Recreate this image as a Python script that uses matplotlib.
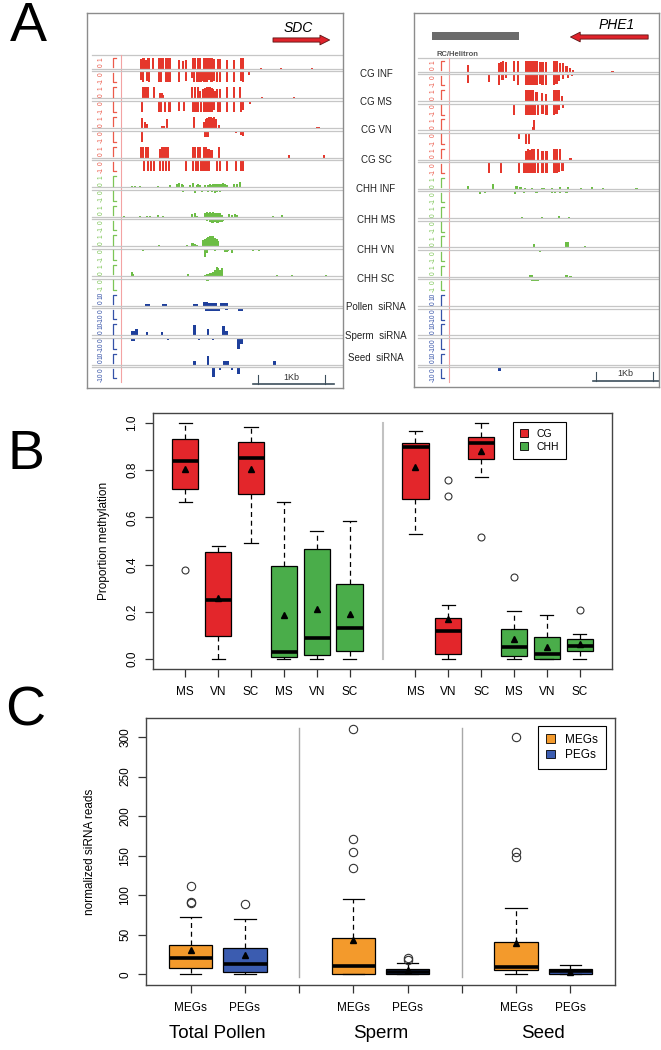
import numpy as np
import matplotlib
matplotlib.use('Agg')
import matplotlib.pyplot as plt
from matplotlib.patches import Patch
from matplotlib.transforms import blended_transform_factory

plt.rcParams['font.family'] = ['Liberation Sans', 'DejaVu Sans']

# ---------------------------------------------------------------- data: panel A
TRACK_NAMES = ['CG INF', 'CG MS', 'CG VN', 'CG SC', 'CHH INF', 'CHH MS', 'CHH VN', 'CHH SC',
               'Pollen  siRNA', 'Sperm  siRNA', 'Seed  siRNA']
TRACK_KIND = ['CG'] * 4 + ['CHH'] * 4 + ['siRNA'] * 3

# methylation tracks: (position bp, value) ; value>0 top strand, value<0 bottom strand
sdc_cg_inf = [(810, .9), (835, 1), (860, 1), (885, .8), (910, 1), (930, 1), (995, 1), (1085, 1), (1110, 1),
              (1140, 1), (1185, 1), (1210, 1), (1240, 1), (1380, .8), (1445, .7), (1480, .8), (1585, 1),
              (1615, 1), (1670, 1), (1700, 1), (1755, 1), (1780, 1), (1805, 1), (1830, 1), (1855, 1),
              (1880, 1), (1905, .9), (1960, .9), (1995, .9), (2095, .8), (2205, .8), (2310, 1), (2340, 1),
              (2610, .06), (2910, .06), (3380, .06),
              (810, -.8), (845, -1), (900, -.9), (925, -1), (1085, -1), (1110, -1), (1180, -1), (1210, -1),
              (1240, -1), (1380, -1), (1480, -.9), (1570, -.6), (1605, -1), (1645, -1), (1675, -1), (1705, -1),
              (1730, -.9), (1755, -1), (1780, -1), (1805, -1), (1830, -.8), (1855, -1), (1880, -1),
              (1905, -.9), (1955, -1), (1995, -1), (2095, -1), (2205, -1), (2310, -.9), (2340, -1), (2435, -.3)]
sdc_cg_ms = [(845, 1), (870, 1), (895, 1), (920, 1), (1005, 1), (1095, .5), (1120, .5), (1145, .3), (1580, 1),
             (1620, 1), (1670, 1), (1700, .7), (1745, .8), (1770, .9), (1795, 1), (1820, 1), (1845, 1),
             (1870, .9), (1895, .8), (1920, .7), (1955, .8), (1995, .8), (2095, 1), (2205, 1), (2295, 1),
             (2620, .1), (2760, .06), (2870, .06), (3110, .1),
             (820, -1), (1080, -1), (1105, -1), (1170, -1), (1225, -1), (1245, -1), (1380, -.9), (1455, -.9),
             (1585, -1), (1610, -1), (1635, -1), (1665, -1), (1705, -1), (1755, -1), (1780, -1), (1805, -1),
             (1830, -1), (1855, -1), (1880, -1), (1905, -.8), (1960, -1), (1995, -1), (2095, -1), (2210, -1),
             (2310, -1), (2345, -.8), (2445, -.3), (3585, -.1)]
sdc_cg_vn = [(830, .9), (870, .5), (895, .4), (1130, .2), (1160, .2), (1195, .8), (1610, 1), (1755, .5),
             (1780, .8), (1805, .9), (1830, 1), (1855, 1), (1880, .9), (1910, 1), (1940, .8), (1985, .3),
             (3455, .1), (3485, .1),
             (820, -1), (1145, -.1), (1185, -.1), (1235, -.1), (1770, -.6), (1795, -.6), (1820, -.6),
             (2110, -.06), (2235, -.2), (2310, -.4), (2345, -.5), (2995, -.06), (3495, -.06)]
sdc_cg_sc = [(810, 1), (840, 1), (885, 1), (915, 1), (1095, .8), (1120, 1), (1150, 1), (1185, 1), (1215, 1),
             (1595, 1), (1620, 1), (1670, 1), (1700, 1), (1755, 1), (1780, 1), (1805, .8), (1830, .8),
             (1855, .7), (1880, .7), (1985, 1), (3030, .2), (3560, .2),
             (860, -1), (910, -1), (960, -1), (1010, -1), (1095, -1), (1145, -1), (1185, -1), (1235, -1),
             (1485, -1), (1585, -1), (1635, -1), (1670, -1), (1705, -1), (1730, -1), (1755, -1), (1780, -1),
             (1805, -1), (1830, -1), (1955, -1), (1995, -1), (2105, -1), (2230, -1), (2310, -1), (2345, -1),
             (3295, -.08)]
sdc_chh_inf = [(670, .08), (720, .08), (795, .06), (1070, .06), (1245, .15), (1345, .3), (1385, .35),
               (1420, .3), (1445, .2), (1545, .15), (1595, .35), (1645, .2), (1670, .25), (1695, .2),
               (1770, .15), (1820, .2), (1845, .3), (1870, .2), (1895, .3), (1920, .25), (1945, .3),
               (1970, .25), (1995, .3), (2020, .25), (2045, .35), (2070, .3), (2095, .15), (2205, .3),
               (2245, .25), (2295, .45),
               (1235, -.15), (1345, -.1), (1445, -.2), (1495, -.15), (1545, -.1), (1620, -.3), (1645, -.15),
               (1720, -.2), (1770, -.15), (1820, -.2), (1870, -.25), (1920, -.3), (1945, -.2), (1995, -.25),
               (2045, -.15)]
sdc_chh_ms = [(560, .1), (795, .06), (895, .08), (945, .08), (1070, .15), (1145, .1), (1570, .25), (1620, .3),
              (1645, .1), (1770, .3), (1795, .45), (1820, .35), (1845, .4), (1870, .35), (1895, .4),
              (1920, .35), (1945, .3), (1970, .3), (1995, .3), (2020, .2), (2135, .25), (2170, .2),
              (2220, .25), (2245, .2), (2795, .06), (2920, .15),
              (1235, -.1), (1545, -.08), (1620, -.08), (1795, -.15), (1845, -.25), (1870, -.35), (1895, -.3),
              (1920, -.25), (1945, -.3), (1970, -.3), (1995, -.2), (2020, -.2), (2045, -.15), (3270, -.06)]
sdc_chh_vn = [(1085, .1), (1495, .12), (1570, .3), (1595, .3), (1620, .25), (1645, .15), (1745, .6), (1770, .7),
              (1795, .8), (1820, .85), (1845, .95), (1870, .9), (1895, .95), (1920, .8), (1945, .7),
              (1970, .5), (2945, .06),
              (835, -.15), (1095, -.1), (1235, -.1), (1270, -.1), (1345, -.1), (1495, -.08), (1610, -.1),
              (1770, -.7), (1795, -.35), (1920, -.15), (2070, -.3), (2095, -.3), (2120, -.2), (2170, -.35),
              (2495, -.15), (2580, -.15)]
sdc_chh_sc = [(670, .4), (695, .15), (1520, .15), (1770, .1), (1795, .15), (1820, .2), (1845, .25), (1870, .3),
              (1895, .4), (1920, .5), (1945, .8), (1970, .75), (1995, .5), (2020, .7), (2855, .06),
              (3080, .06), (3585, .06),
              (1235, -.08), (1545, -.08), (1605, -.08), (1795, -.25), (1820, -.25)]
# siRNA tracks: (start bp, end bp, reads)
sdc_pollen = [(870, 945, 1.5), (1130, 1200, 1.5), (1595, 1670, 1.5), (1745, 1820, 3), (1820, 1945, 2.5),
              (1995, 2120, 2), (1770, 1870, -3), (1870, 1995, -2.5), (2070, 2120, -2), (2270, 2345, -3)]
sdc_sperm = [(655, 720, 3.5), (720, 770, 6), (885, 920, 3), (1110, 1145, 3), (1595, 1630, 9), (1795, 1830, 6),
             (2020, 2070, 8), (2070, 2120, 4), (655, 720, -3), (1195, 1235, -2), (1670, 1695, -2),
             (1870, 1905, -2), (2245, 2300, -10), (2300, 2345, -6)]
sdc_seed = [(1595, 1630, 3), (1795, 1830, 8), (2045, 2135, 3), (2795, 2835, 3), (1870, 1920, -9),
            (1985, 2015, -2), (2155, 2185, -2), (2245, 2295, -6), (2685, 2710, -1), (3060, 3085, -1)]

phe_cg_inf = [(950, .6), (1485, .8), (1525, .9), (1560, 1), (1610, .9), (1755, 1), (1825, 1), (1960, 1),
              (2000, 1), (2040, 1), (2065, 1), (2090, 1), (2115, 1), (2145, 1), (2205, .9), (2250, .9),
              (2310, .9), (2450, 1), (2495, 1), (2555, .8), (2610, .8), (2670, .5), (2730, .3), (2785, .15),
              (3475, .1),
              (950, -.8), (1315, -.7), (1490, -1), (1550, -.5), (1610, -.3), (1755, -.6), (1825, -1),
              (1960, -1), (2000, -1), (2040, -1), (2065, -1), (2090, -1), (2115, -1), (2145, -1),
              (2205, -.9), (2250, -1), (2310, -1), (2450, -1), (2495, -.9), (2540, -.6), (2610, -.4),
              (2700, -.3), (2760, -.2)]
phe_cg_ms = [(1960, 1), (1990, 1), (2015, 1), (2040, 1), (2065, 1), (2090, 1), (2145, .8), (2235, .7),
             (2310, .6), (2450, 1), (2495, 1), (2540, 1), (2585, .5),
             (1755, -1), (1960, -1), (1990, -1), (2015, -1), (2040, -1), (2065, -1), (2090, -1), (2115, -1),
             (2175, -1), (2250, -.9), (2320, -1), (2450, -1), (2495, -.9), (2540, -.6), (2610, -.4)]
phe_cg_vn = [(2085, .3), (2105, .9), (1840, -.6), (1960, -1), (2015, -1), (2320, -.1)]
phe_cg_sc = [(1960, .8), (2000, 1), (2040, .9), (2075, 1), (2100, 1), (2175, 1), (2250, .8), (2320, .8),
             (2450, 1), (2495, 1), (2555, 1), (2740, .1),
             (1315, -1), (1520, -1), (1840, -1), (1925, -1), (1960, -1), (1990, -1), (2015, -1), (2040, -1),
             (2065, -1), (2090, -1), (2115, -1), (2175, -1), (2250, -1), (2320, -1), (2450, -1), (2495, -1),
             (2540, -.9), (2600, -.8)]
phe_chh_inf = [(950, .3), (1390, .45), (1795, .3), (1865, .2), (1940, .1), (2060, .1), (2235, .1), (2270, .1),
               (2410, .1), (2555, .15), (2700, .15), (2930, .1), (3110, .2), (3310, .1), (3895, .1),
               (1150, -.2), (1240, -.15), (1765, -.2), (1925, -.1), (2145, -.15), (2410, -.1), (2470, -.1),
               (2555, -.1), (2670, -.1), (3050, -.08), (3340, -.08)]
phe_chh_ms = [(1885, .15), (2235, .08), (2540, .2), (2715, .15)]
phe_chh_vn = [(2105, .3), (2670, .5), (2700, .5), (3000, .1), (1795, -.1), (2205, -.2), (3195, -.1), (3400, -.1)]
phe_chh_sc = [(2030, .15), (2060, .15), (2670, .15), (2740, .08), (2075, -.15), (2105, -.15), (2140, -.15),
              (2175, -.15)]
phe_pollen = []
phe_sperm = []
phe_seed = [(1475, 1515, -3)]

# ---------------------------------------------------------------- data: panel B
b_positions = [1, 2, 3, 4, 5, 6, 8, 9, 10, 11, 12, 13]
b_labels = ['MS', 'VN', 'SC', 'MS', 'VN', 'SC', 'MS', 'VN', 'SC', 'MS', 'VN', 'SC']
b_context = ['CG', 'CG', 'CG', 'CHH', 'CHH', 'CHH', 'CG', 'CG', 'CG', 'CHH', 'CHH', 'CHH']
b_whislo = [0.667, 0.0, 0.49, 0.0, 0.0, 0.0, 0.528, 0.0, 0.771, 0.0, 0.0, 0.0]
b_q1 = [0.722, 0.096, 0.70, 0.01, 0.016, 0.035, 0.677, 0.023, 0.849, 0.013, 0.0, 0.034]
b_med = [0.838, 0.25, 0.85, 0.03, 0.09, 0.131, 0.90, 0.119, 0.915, 0.051, 0.021, 0.054]
b_q3 = [0.934, 0.453, 0.919, 0.395, 0.465, 0.316, 0.917, 0.172, 0.941, 0.127, 0.095, 0.083]
b_whishi = [1.0, 0.48, 0.983, 0.665, 0.544, 0.583, 0.966, 0.227, 1.0, 0.203, 0.185, 0.107]
b_mean = [0.806, 0.26, 0.806, 0.186, 0.213, 0.19, 0.812, 0.17, 0.88, 0.086, 0.052, 0.064]
b_fliers = [[0.376], [], [], [], [], [], [], [0.758, 0.69], [0.516], [0.347], [], [0.206]]

# ---------------------------------------------------------------- data: panel C
c_positions = [1, 2, 4, 5, 7, 8]
c_class = ['MEGs', 'PEGs', 'MEGs', 'PEGs', 'MEGs', 'PEGs']
c_groups = ['Total Pollen', 'Sperm', 'Seed']
c_whislo = [1, 0, 0, 0, 0, 0]
c_q1 = [7.6, 3.4, 0, 0, 5, 0]
c_med = [21, 13, 10.5, 2.5, 9.2, 4.2]
c_q3 = [37, 32.8, 45.8, 6.3, 40.8, 7.1]
c_whishi = [72.7, 69.3, 95.8, 13.9, 84, 11.8]
c_mean = [30.7, 24.4, 44, 5.5, 40, 3.4]
c_fliers = [[112, 92, 90], [89.5], [310, 171, 155, 134], [21, 17.5], [300, 155, 148], []]

# ---------------------------------------------------------------- styling
W, H = 661, 1050
fig = plt.figure(figsize=(W / 100, H / 100), dpi=100)


def rect(x0, y0, x1, y1):
    return [x0 / W, 1 - y1 / H, (x1 - x0) / W, (y1 - y0) / H]


COL = {'CG': '#e5372c', 'CHH': '#6cbd45', 'siRNA': '#1e3f9b'}
LABCOL = {'CG': '#ec5a4a', 'CHH': '#7cc556', 'siRNA': '#3552a8'}
GRID = '#c6c6c6'


def draw_browser(px, span_bp, zero0, step, meth, sirna, label_x, bracket_x, pink_x, line_x0, bar_w):
    ax = fig.add_axes(rect(*px))
    hpx = px[3] - px[1]
    ax.set_xlim(0, span_bp)
    ax.set_ylim(hpx, 0)
    ax.set_xticks([])
    ax.set_yticks([])
    for s in ax.spines.values():
        s.set_color('#8c8c8c')
        s.set_linewidth(1.0)
    HB, gap = 11.0, 1.3
    bw = span_bp * 0.012
    zeros = [zero0 + step * i for i in range(len(TRACK_NAMES))]
    ax.plot([line_x0, span_bp], [zero0 - 15] * 2, color=GRID, lw=0.9)
    ax.plot([pink_x] * 2, [zero0 - 15, zeros[-1] + 16], color='#f3a3a3', lw=0.8)
    tracks = meth + sirna
    for i, z in enumerate(zeros):
        kind = TRACK_KIND[i]
        for dy in (-gap, gap):
            ax.plot([line_x0, span_bp], [z + dy] * 2, color=GRID, lw=0.9)
        labs = ('10', '0', '0', '-10') if kind == 'siRNA' else ('1', '0', '0', '-1')
        for t, dy in zip(labs, (-11, -4.5, 4.0, 11)):
            ax.text(label_x, z + dy, t, rotation=90, ha='center', va='center', fontsize=4.8,
                    color=LABCOL[kind])
        ax.plot([bracket_x + bw, bracket_x, bracket_x], [z - gap - HB, z - gap - HB, z - gap - 1.5],
                color=LABCOL[kind], lw=0.9)
        ax.plot([bracket_x, bracket_x, bracket_x + bw], [z + gap + 1.5, z + gap + HB, z + gap + HB],
                color=LABCOL[kind], lw=0.9)
        data = tracks[i]
        if not data:
            continue
        if kind == 'siRNA':
            arr = np.array(data, dtype=float)
            st, en, v = arr[:, 0], arr[:, 1], arr[:, 2]
            up = v > 0
            ax.bar(st[up], -v[up] / 10 * HB, bottom=z - gap, width=(en - st)[up], align='edge',
                   color=COL[kind], lw=0)
            ax.bar(st[~up], -v[~up] / 10 * HB, bottom=z + gap, width=(en - st)[~up], align='edge',
                   color=COL[kind], lw=0)
        else:
            arr = np.array(data, dtype=float)
            pos, v = arr[:, 0], arr[:, 1]
            up = v > 0
            ax.bar(pos[up], -v[up] * HB, bottom=z - gap, width=bar_w, color=COL[kind], lw=0)
            ax.bar(pos[~up], -v[~up] * HB, bottom=z + gap, width=bar_w, color=COL[kind], lw=0)
    return ax


sdc_meth = [sdc_cg_inf, sdc_cg_ms, sdc_cg_vn, sdc_cg_sc, sdc_chh_inf, sdc_chh_ms, sdc_chh_vn, sdc_chh_sc]
phe_meth = [phe_cg_inf, phe_cg_ms, phe_cg_vn, phe_cg_sc, phe_chh_inf, phe_chh_ms, phe_chh_vn, phe_chh_sc]

axL = draw_browser((87, 13, 343, 388), 3840, 57, 29.6, sdc_meth, [sdc_pollen, sdc_sperm, sdc_seed],
                   label_x=215, bracket_x=385, pink_x=505, line_x0=75, bar_w=33)
axR = draw_browser((414, 13, 659, 387), 4290, 60, 29.3, phe_meth, [phe_pollen, phe_sperm, phe_seed],
                   label_x=330, bracket_x=470, pink_x=612, line_x0=70, bar_w=38)

# gene arrows / labels
axL.text(3165, 15, 'SDC', style='italic', fontsize=10, ha='center', va='center')
axL.annotate('', xy=(3640, 27), xytext=(2790, 27),
             arrowprops=dict(arrowstyle='simple,head_length=0.7,head_width=0.7,tail_width=0.3',
                             fc='#e0232b', ec='#5b1515', lw=0.6, mutation_scale=10, shrinkA=0, shrinkB=0))
axR.text(3550, 12, 'PHE1', style='italic', fontsize=10, ha='center', va='center')
axR.annotate('', xy=(2740, 24), xytext=(4100, 24),
             arrowprops=dict(arrowstyle='simple,head_length=0.7,head_width=0.7,tail_width=0.3',
                             fc='#e0232b', ec='#5b1515', lw=0.6, mutation_scale=10, shrinkA=0, shrinkB=0))
axR.bar(315, 8, bottom=19, width=1525, align='edge', color='#6b6b6b', lw=0)
axR.text(400, 41, 'RC/Helitron', fontsize=5.5, fontweight='bold', color='#555555', ha='left', va='center')

# scale bars
for ax, x0, x1, t0, t1, yl, ytxt in ((axL, 2495, 3700, 2570, 3570, 371, 364),
                                      (axR, 3130, 4290, 3195, 4190, 368.5, 361)):
    ax.plot([x0, x1], [yl, yl], color='#3d4f5c', lw=1.2)
    for t in (t0, t1):
        ax.plot([t, t], [yl - 9, yl], color='#3d4f5c', lw=0.8)
    ax.text((t0 + t1) / 2, ytxt, '1Kb', fontsize=6.5, ha='center', va='center', color='#333333')

track_label_y = [74, 102, 130, 160, 189, 220, 250, 279, 307, 336, 358]
for name, y in zip(TRACK_NAMES, track_label_y):
    fig.text(376 / W, 1 - y / H, name, fontsize=7, ha='center', va='center', color='#222222')

# ---------------------------------------------------------------- panel B
RED, GREEN = '#e3262b', '#4aad4a'
axB = fig.add_axes(rect(153, 413, 612, 669))
statsB = [dict(med=m, q1=a, q3=b, whislo=lo, whishi=hi, fliers=np.array(f), mean=mu)
          for m, a, b, lo, hi, f, mu in zip(b_med, b_q1, b_q3, b_whislo, b_whishi, b_fliers, b_mean)]


def boxes(ax, stats, positions, colors, fsize):
    bp = ax.bxp(stats, positions=positions, widths=0.8, patch_artist=True, showmeans=True,
                boxprops=dict(edgecolor='black', linewidth=0.9),
                medianprops=dict(color='black', linewidth=2.6, solid_capstyle='butt'),
                whiskerprops=dict(color='black', linestyle=(0, (4, 3)), linewidth=0.9),
                capprops=dict(color='black', linewidth=0.9),
                meanprops=dict(marker='^', markerfacecolor='black', markeredgecolor='black', markersize=4.2),
                flierprops=dict(marker='o', markerfacecolor='none', markeredgecolor='#333333',
                                markersize=fsize, markeredgewidth=0.8),
                capwidths=0.4)
    for p, c in zip(bp['boxes'], colors):
        p.set_facecolor(c)


def style_axes(ax):
    for s in ax.spines.values():
        s.set_color('#444444')
        s.set_linewidth(1.0)
    ax.tick_params(direction='out', length=5.5, width=0.9, color='#333333', labelsize=8.5)
    ax.tick_params(axis='y', pad=5)
    ax.tick_params(axis='x', pad=7)
    for lab in ax.get_yticklabels():
        lab.set_rotation(90)
        lab.set_va('center')


boxes(axB, statsB, b_positions, [RED if c == 'CG' else GREEN for c in b_context], 5)
axB.plot([7, 7], [0, 1.0], color='#c2c2c2', lw=1.5, zorder=0)
axB.set_xlim(0.02, 13.98)
axB.set_ylim(-0.042, 1.042)
axB.set_xticks(b_positions)
axB.set_xticklabels(b_labels)
axB.set_yticks(np.arange(0, 1.01, 0.2))
axB.set_yticklabels([f'{v:.1f}' for v in np.arange(0, 1.01, 0.2)])
style_axes(axB)
axB.set_ylabel('Proportion methylation', fontsize=8.5, labelpad=12)
legB = axB.legend([Patch(fc=RED, ec='black', lw=0.6), Patch(fc=GREEN, ec='black', lw=0.6)], ['CG', 'CHH'],
                  loc='upper left', bbox_to_anchor=(513 / W, 1 - 422 / H), bbox_transform=fig.transFigure,
                  fancybox=False, edgecolor='black', fontsize=7.5, handlelength=0.75, handleheight=0.75,
                  handletextpad=0.9, borderpad=0.65, labelspacing=0.3, borderaxespad=0, framealpha=1)
legB.get_frame().set_linewidth(0.8)

# ---------------------------------------------------------------- panel C
ORANGE, BLUE = '#f39a2c', '#3b5cb0'
axC = fig.add_axes(rect(146, 718, 615, 985))
statsC = [dict(med=m, q1=a, q3=b, whislo=lo, whishi=hi, fliers=np.array(f), mean=mu)
          for m, a, b, lo, hi, f, mu in zip(c_med, c_q1, c_q3, c_whislo, c_whishi, c_fliers, c_mean)]
boxes(axC, statsC, c_positions, [ORANGE if c == 'MEGs' else BLUE for c in c_class], 6)
for xs in (3, 6):
    axC.plot([xs, xs], [-4, 311], color='#a8a8a8', lw=1.0, zorder=0)
axC.set_xlim(0.18, 8.82)
axC.set_ylim(-13.5, 324)
axC.set_xticks([1, 2, 3, 4, 5, 6, 7, 8])
axC.set_xticklabels(['MEGs', 'PEGs', '', 'MEGs', 'PEGs', '', 'MEGs', 'PEGs'])
axC.set_yticks(np.arange(0, 301, 50))
style_axes(axC)
axC.set_ylabel('normalized siRNA reads', fontsize=8.5, labelpad=17)
legC = axC.legend([Patch(fc=ORANGE, ec='black', lw=0.6), Patch(fc=BLUE, ec='black', lw=0.6)], ['MEGs', 'PEGs'],
                  loc='upper left', bbox_to_anchor=(538 / W, 1 - 726 / H), bbox_transform=fig.transFigure,
                  fancybox=False, edgecolor='black', fontsize=8.5, handlelength=0.75, handleheight=0.75,
                  handletextpad=0.9, borderpad=0.65, labelspacing=0.3, borderaxespad=0, framealpha=1)
legC.get_frame().set_linewidth(0.8)
trC = blended_transform_factory(axC.transData, fig.transFigure)
for g, xc in zip(c_groups, (1.5, 4.5, 7.5)):
    axC.text(xc, 1 - 1033 / H, g, transform=trC, fontsize=13.5, ha='center', va='center')

# ---------------------------------------------------------------- panel letters
for letter, x, y in (('A', 28, 27), ('B', 26, 455), ('C', 25, 712)):
    fig.text(x / W, 1 - y / H, letter, fontsize=40, ha='center', va='center')

fig.savefig('out.png', dpi=100)
